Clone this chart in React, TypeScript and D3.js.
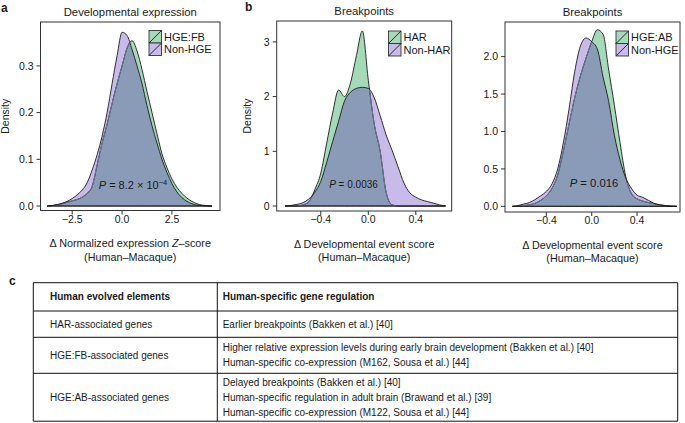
import React from 'react';
import * as d3 from 'd3';

// panel a: developmental expression density (Z-score grid)
const gridA = [-3.75, -3.5, -3.25, -3.0, -2.75, -2.5, -2.25, -2.0, -1.75, -1.5, -1.25, -1.0, -0.75, -0.5, -0.25, 0.0,
  0.25, 0.5, 0.75, 1.0, 1.25, 1.5, 1.75, 2.0, 2.25, 2.5, 2.75, 3.0, 3.25, 3.5, 3.75, 4.0, 4.25, 4.5];
const hgeFB = [0, 0.001, 0.003, 0.005, 0.008, 0.011, 0.014, 0.019, 0.027, 0.042, 0.088, 0.135, 0.175, 0.22, 0.262, 0.3,
  0.338, 0.354, 0.332, 0.292, 0.245, 0.2, 0.155, 0.112, 0.082, 0.058, 0.04, 0.027, 0.017, 0.01, 0.005, 0.002, 0.001, 0];
const nonHgeA = [0, 0.001, 0.003, 0.006, 0.01, 0.016, 0.024, 0.034, 0.05, 0.077, 0.11, 0.15, 0.2, 0.262, 0.322, 0.372,
  0.365, 0.335, 0.3, 0.262, 0.215, 0.172, 0.135, 0.1, 0.072, 0.048, 0.03, 0.018, 0.01, 0.005, 0.002, 0.001, 0, 0];

// panel b: breakpoints, HAR vs non-HAR
const gridB = [-0.7, -0.65, -0.6, -0.55, -0.5, -0.45, -0.4, -0.35, -0.3, -0.25, -0.2, -0.15, -0.1, -0.05, 0,
  0.05, 0.1, 0.15, 0.2, 0.25, 0.3, 0.35, 0.4, 0.45, 0.5, 0.55, 0.6, 0.65];
const har = [0, 0, 0, 0.02, 0.08, 0.3, 0.6, 1.15, 1.7, 2.12, 2.0, 2.25, 2.75, 3.2, 2.3,
  1.5, 1.0, 0.25, 0.02, 0, 0, 0, 0, 0, 0, 0, 0, 0];
const nonHar = [0, 0.01, 0.03, 0.06, 0.13, 0.25, 0.45, 0.8, 1.18, 1.55, 1.92, 2.08, 2.15, 2.17, 2.15,
  1.98, 1.65, 1.3, 1.02, 0.72, 0.42, 0.24, 0.16, 0.11, 0.08, 0.05, 0.02, 0];

// panel c: breakpoints, HGE:AB vs non-HGE
const gridC = [-0.7, -0.65, -0.6, -0.55, -0.5, -0.45, -0.4, -0.35, -0.3, -0.25, -0.2, -0.15, -0.1, -0.05, 0,
  0.05, 0.1, 0.15, 0.2, 0.25, 0.3, 0.35, 0.4, 0.45, 0.5, 0.55, 0.6, 0.65, 0.7, 0.75];
const hgeAB = [0, 0, 0.01, 0.02, 0.04, 0.08, 0.14, 0.24, 0.42, 0.74, 1.1, 1.45, 1.74, 1.98, 2.2,
  2.36, 2.3, 1.82, 1.35, 0.85, 0.4, 0.17, 0.1, 0.07, 0.05, 0.035, 0.02, 0.01, 0.005, 0];
const nonHgeC = [0, 0.01, 0.03, 0.05, 0.09, 0.14, 0.2, 0.3, 0.5, 0.85, 1.3, 1.8, 2.14, 2.25, 2.2,
  2.1, 1.73, 1.4, 0.95, 0.62, 0.38, 0.24, 0.15, 0.12, 0.08, 0.04, 0.02, 0.01, 0, 0];

const ticksA = { x: [-2.5, 0, 2.5], y: [0, 0.1, 0.2, 0.3] };
const ticksB = { x: [-0.4, 0, 0.4], y: [0, 1, 2, 3] };
const ticksC = { x: [-0.4, 0, 0.4], y: [0, 0.5, 1, 1.5, 2] };

// table
const tableHeader = ['Human evolved elements', 'Human-specific gene regulation'];
const tableElements = ['HAR-associated genes', 'HGE:FB-associated genes', 'HGE:AB-associated genes'];
const tableRegulation = [
  ['Earlier breakpoints (Bakken et al.) [40]'],
  ['Higher relative expression levels during early brain development (Bakken et al.) [40]',
    'Human-specific co-expression (M162, Sousa et al.) [44]'],
  ['Delayed breakpoints (Bakken et al.) [40]',
    'Human-specific regulation in adult brain (Brawand et al.) [39]',
    'Human-specific co-expression (M122, Sousa et al.) [44]'],
];

const FONT = "'Liberation Sans', Arial, Helvetica, sans-serif";
const GREEN = '#a5dab9';
const PURPLE = '#c8bbe9';
const OVERLAP = '#8a9bb7';
const INK = '#1a1a1a';

type Box = { x0: number; x1: number; y0: number; y1: number };

function DensityPanel(props: {
  id: string; xs: number[]; a: number[]; b: number[]; names: string[];
  xDomain: number[]; yDomain: number[]; box: Box; ticks: { x: number[]; y: number[] };
  yFmt: string; title: string; xTitle: React.ReactNode; densityGap: number;
  pLabel: React.ReactNode; pPos: number[]; legendPos: number[]; pSize: number;
}) {
  const { id, xs, a, b, names, box, ticks } = props;
  const x = d3.scaleLinear().domain(props.xDomain).range([box.x0, box.x1]);
  const y = d3.scaleLinear().domain(props.yDomain).range([box.y1, box.y0]);
  const area = d3.area<number>()
    .x((_, i) => x(xs[i]))
    .y0(y(0))
    .y1(d => y(d))
    .curve(d3.curveMonotoneX);
  const pathA = area(a) || '';
  const pathB = area(b) || '';
  const xf = d3.format('.1f');
  const yf = d3.format(props.yFmt);
  const cx = (box.x0 + box.x1) / 2;
  const ks = 12.5;
  const [lx, ly] = props.legendPos;

  return (
    <g>
      <defs>
        <clipPath id={`${id}-ca`}><path d={pathA} /></clipPath>
        <clipPath id={`${id}-cb`}><path d={pathB} /></clipPath>
      </defs>
      <text x={cx} y={box.y0 - 6.5} textAnchor="middle" fontSize={11.3} fill={INK}>{props.title}</text>
      <path d={pathA} fill={GREEN} />
      <path d={pathB} fill={PURPLE} />
      <path d={pathB} fill={OVERLAP} clipPath={`url(#${id}-ca)`} />
      <path d={pathA} fill="none" stroke={INK} strokeWidth={0.9} />
      <path d={pathA} fill="none" stroke="#6b7890" strokeWidth={1} clipPath={`url(#${id}-cb)`} />
      <path d={pathB} fill="none" stroke={INK} strokeWidth={0.9} />
      <rect x={box.x0} y={box.y0} width={box.x1 - box.x0} height={box.y1 - box.y0}
        fill="none" stroke="#333" strokeWidth={1} />
      {ticks.y.map(t => (
        <g key={`y${t}`}>
          <line x1={box.x0 - 4} x2={box.x0} y1={y(t)} y2={y(t)} stroke="#333" />
          <text x={box.x0 - 7} y={y(t) + 3.7} textAnchor="end" fontSize={10.5} fill={INK}>{yf(t)}</text>
        </g>
      ))}
      {ticks.x.map(t => (
        <g key={`x${t}`}>
          <line x1={x(t)} x2={x(t)} y1={box.y1} y2={box.y1 + 4} stroke="#333" />
          <text x={x(t)} y={box.y1 + 12} textAnchor="middle" fontSize={10.5} fill={INK}>{xf(t)}</text>
        </g>
      ))}
      <text x={cx} y={box.y1 + 36.5} textAnchor="middle" fontSize={10.8} fill={INK}>{props.xTitle}</text>
      <text x={cx} y={box.y1 + 50} textAnchor="middle" fontSize={10.8} fill={INK}>(Human–Macaque)</text>
      {props.densityGap > 0 && (
        <text transform={`translate(${box.x0 - props.densityGap},${(box.y0 + box.y1) / 2}) rotate(-90)`}
          textAnchor="middle" fontSize={10.5} fill={INK}>Density</text>
      )}
      <text x={props.pPos[0]} y={props.pPos[1]} textAnchor="middle" fontSize={props.pSize} fill={INK}>{props.pLabel}</text>
      {[GREEN, PURPLE].map((c, i) => (
        <g key={c}>
          <rect x={lx} y={ly + i * ks} width={ks} height={ks} fill={c} stroke="#333" strokeWidth={0.9} />
          <line x1={lx} y1={ly + (i + 1) * ks} x2={lx + ks} y2={ly + i * ks} stroke={INK} strokeWidth={0.9} />
          <text x={lx + ks + 2.5} y={ly + i * ks + ks / 2 + 4} fontSize={11} fill={INK}>{names[i]}</text>
        </g>
      ))}
    </g>
  );
}

function Table() {
  const left = 33.3, right = 677.7, mid = 217.3;
  const lines = [282.7, 311, 337.3, 373.3, 421.2];
  const col1 = 50, col2 = 222.7;
  const lh = 15;
  return (
    <g fontSize={10} fill={INK}>
      <text x={9} y={285} fontSize={12} fontWeight="bold">c</text>
      {lines.map(l => <line key={l} x1={left} x2={right} y1={l} y2={l} stroke="#111" strokeWidth={1} />)}
      <line x1={left} x2={left} y1={lines[0]} y2={lines[4]} stroke="#111" />
      <line x1={right} x2={right} y1={lines[0]} y2={lines[4]} stroke="#111" />
      <line x1={mid} x2={mid} y1={lines[0]} y2={lines[4]} stroke="#111" />
      <text x={col1} y={(lines[0] + lines[1]) / 2 + 3.6} fontWeight="bold">{tableHeader[0]}</text>
      <text x={col2} y={(lines[0] + lines[1]) / 2 + 3.6} fontWeight="bold">{tableHeader[1]}</text>
      {tableElements.map((el, i) => {
        const c = (lines[i + 1] + lines[i + 2]) / 2;
        const rows = tableRegulation[i];
        const start = c - ((rows.length - 1) * lh) / 2;
        return (
          <g key={el}>
            <text x={col1} y={c + 3.6}>{el}</text>
            {rows.map((r, j) => <text key={r} x={col2} y={start + j * lh + 3.6}>{r}</text>)}
          </g>
        );
      })}
    </g>
  );
}

export default function App() {
  return (
    <svg width={685} height={423} style={{ position: 'absolute', left: 0, top: 0, background: '#fff' }}
      fontFamily={FONT}>
      <text x={1} y={11.5} fontSize={12} fontWeight="bold" fill={INK}>a</text>
      <text x={245} y={10.5} fontSize={12} fontWeight="bold" fill={INK}>b</text>
      <DensityPanel id="pa" xs={gridA} a={hgeFB} b={nonHgeA} names={['HGE:FB', 'Non-HGE']}
        xDomain={[-4.09, 4.91]} yDomain={[-0.0096, 0.394]} box={{ x0: 40.5, x1: 220, y0: 22, y1: 210.5 }}
        ticks={ticksA} yFmt=".1f" title="Developmental expression" densityGap={32}
        xTitle={<>Δ Normalized expression <tspan fontStyle="italic">Z</tspan>–score</>}
        pLabel={<><tspan fontStyle="italic">P</tspan> = 8.2 × 10<tspan dy={-4} fontSize={7.5}>−4</tspan></>}
        pPos={[133, 189]} pSize={11} legendPos={[149, 30.5]} />
      <DensityPanel id="pb" xs={gridB} a={har} b={nonHar} names={['HAR', 'Non-HAR']}
        xDomain={[-0.771, 0.702]} yDomain={[-0.0914, 3.382]} box={{ x0: 276.7, x1: 451.7, y0: 21, y1: 211 }}
        ticks={ticksB} yFmt="d" title="Breakpoints" densityGap={26}
        xTitle="Δ Developmental event score"
        pLabel={<><tspan fontStyle="italic">P</tspan> = 0.0036</>}
        pPos={[353.5, 187.5]} pSize={10} legendPos={[388.5, 31]} />
      <DensityPanel id="pc" xs={gridC} a={hgeAB} b={nonHgeC} names={['HGE:AB', 'Non-HGE']}
        xDomain={[-0.765, 0.779]} yDomain={[-0.076, 2.463]} box={{ x0: 505, x1: 680, y0: 22, y1: 212 }}
        ticks={ticksC} yFmt=".1f" title="Breakpoints" densityGap={0}
        xTitle="Δ Developmental event score"
        pLabel={<><tspan fontStyle="italic">P</tspan> = 0.016</>}
        pPos={[594, 186.5]} pSize={11.3} legendPos={[616, 31]} />
      <Table />
    </svg>
  );
}
